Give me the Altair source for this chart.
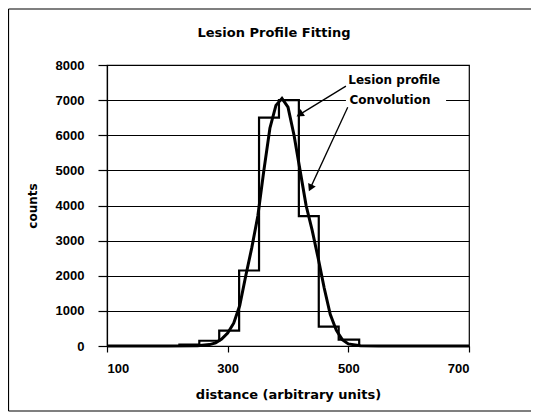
import altair as alt
import pandas as pd

# Lesion profile (histogram-like step function): bin left edges and counts
step_x = [100, 220, 253, 286, 319, 352, 385, 418, 451, 484, 518, 700]
step_y = [0, 40, 150, 440, 2150, 6500, 7000, 3700, 550, 180, 0, 0]

# Convolution (smooth fitted curve)
conv_x = [100, 200, 250, 270, 280, 290, 300, 310, 320, 330, 340, 350, 360, 370, 380,
          390, 400, 410, 420, 430, 440, 450, 460, 470, 480, 490, 500, 520, 550, 700]
conv_y = [0, 0, 10, 40, 90, 200, 370, 650, 1150, 2000, 2800, 3700, 5000, 6200, 6850,
          7050, 6800, 6000, 5000, 4000, 3300, 2500, 1650, 900, 450, 180, 60, 10, 0, 0]

# Annotations
ann_text = ["Lesion profile", "Convolution"]
ann_x = [500, 502]
ann_y = [7580, 7000]
box_x = [496, 662]
box_y = [6780, 7230]
arrow_x1 = [496, 499]
arrow_y1 = [7400, 6800]
arrow_x2 = [421, 438]
arrow_y2 = [6610, 4530]
arrow_angle = [238, 205]

FONT = "Liberation Sans"
TFONT = "DejaVu Sans"
W, H = 362, 281

step_df = pd.DataFrame({"x": step_x, "y": step_y})
conv_df = pd.DataFrame({"x": conv_x, "y": conv_y})
ann_df = pd.DataFrame({"t": ann_text, "x": ann_x, "y": ann_y})
box_df = pd.DataFrame({"x": [box_x[0]], "x2": [box_x[1]], "y": [box_y[0]], "y2": [box_y[1]]})
arr_df = pd.DataFrame({"x": arrow_x1, "y": arrow_y1, "x2": arrow_x2, "y2": arrow_y2,
                       "a": arrow_angle})

xs = alt.Scale(domain=[100, 700], nice=False, zero=False)
ys = alt.Scale(domain=[0, 8000], nice=False)

xax = alt.Axis(values=[100, 300, 500, 700], grid=False, tickSize=6, labelPadding=10,
               titlePadding=13, title="distance (arbitrary units)", format="d",
               labelOverlap=False, titleFontSize=13)
yax = alt.Axis(values=list(range(0, 8001, 1000)), grid=True, tickSize=9, labelPadding=14,
               titlePadding=16, title="counts", format="d", labelOverlap=False)

X = lambda f: alt.X(f, scale=xs, axis=xax)
Y = lambda f: alt.Y(f, scale=ys, axis=yax)

steps = alt.Chart(step_df).mark_line(interpolate="step-after", color="black",
                                     strokeWidth=2.2).encode(x=X("x:Q"), y=Y("y:Q"))

conv = alt.Chart(conv_df).mark_line(color="black", strokeWidth=3).encode(
    x=X("x:Q"), y=Y("y:Q"))

white_box = alt.Chart(box_df).mark_rect(color="white").encode(
    x=X("x:Q"), x2="x2:Q", y=Y("y:Q"), y2="y2:Q")

texts = alt.Chart(ann_df).mark_text(
    align="left", baseline="middle", font=TFONT, fontSize=12, fontWeight="bold", color="black"
).encode(x=X("x:Q"), y=Y("y:Q"), text="t:N")

arrows = alt.Chart(arr_df).mark_rule(color="black", strokeWidth=1.3).encode(
    x=X("x:Q"), y=Y("y:Q"), x2="x2:Q", y2="y2:Q"
)

heads = alt.Chart(arr_df).mark_point(
    shape="triangle", filled=True, color="black", size=70, opacity=1
).encode(x=X("x2:Q"), y=Y("y2:Q"), angle=alt.Angle("a:Q", scale=None))

title = alt.Chart(box_df).mark_text(
    text="Lesion Profile Fitting", font=TFONT, fontSize=13, fontWeight="bold",
    align="center", baseline="middle", color="black"
).encode(x=alt.value(167), y=alt.value(-32))

frame = alt.Chart(box_df).mark_rule(color="black", strokeWidth=1.2)
frame_top = frame.encode(x=alt.value(-98.5), x2=alt.value(425), y=alt.value(-56))
frame_bot = frame.encode(x=alt.value(-98.5), x2=alt.value(425), y=alt.value(346))
frame_left = frame.encode(x=alt.value(-98.5), y=alt.value(-56), y2=alt.value(346))

chart = alt.layer(
    steps, conv, white_box, texts, arrows, heads, title, frame_top, frame_bot, frame_left
).properties(
    width=W, height=H,
    padding={"left": 99, "top": 57, "right": 62, "bottom": 70},
    autosize=alt.AutoSizeParams(type="none"),
    background="white",
).configure_view(
    stroke="black", strokeWidth=1.2
).configure_axis(
    labelFont=FONT, labelFontSize=13, labelFontWeight="bold", labelColor="black",
    titleFont=TFONT, titleFontSize=12, titleFontWeight="bold", titleColor="black",
    domainColor="black", tickColor="black", gridColor="black", gridOpacity=1,
    gridWidth=1.2, domainWidth=1.2, tickWidth=1.2,
)

chart.save("out.html", embed_options={"renderer": "svg", "actions": False})
